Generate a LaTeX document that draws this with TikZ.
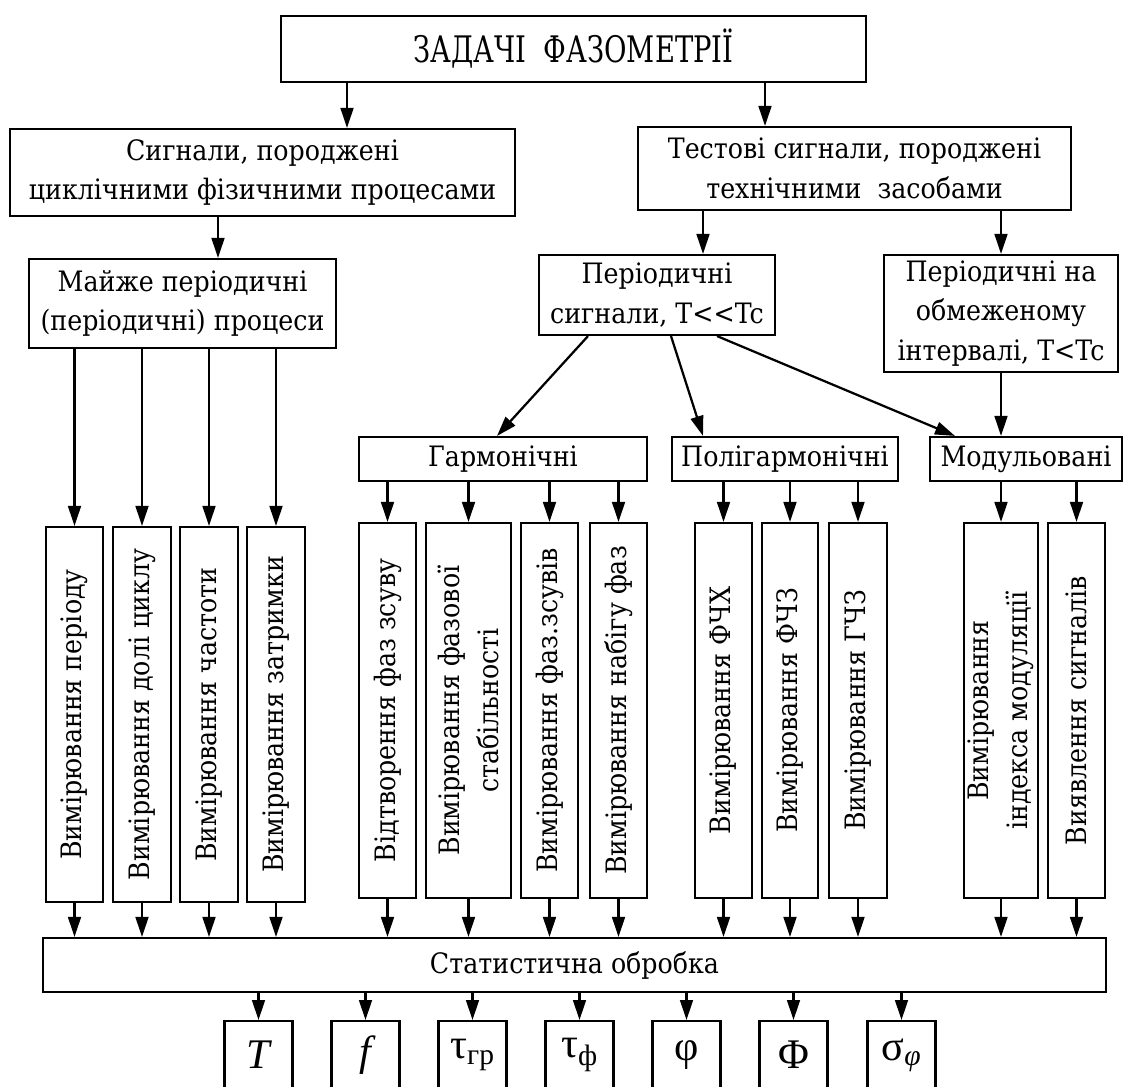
\documentclass[tikz,border=0pt]{standalone}
\usepackage{fontspec}
\setmainfont{DejaVu Serif}[FakeStretch=0.9]
\newfontfamily\titlefont{DejaVu Serif}[FakeStretch=0.75]
\newfontfamily\symfont{Liberation Serif}
\usetikzlibrary{arrows.meta}

\begin{document}
\begin{tikzpicture}[
    x=0.25mm, y=-0.25mm,
    >={Triangle[length=5mm, width=3.2mm]},
    box/.style={draw, line width=1.5pt, align=center, inner sep=0pt,
                font=\fontsize{20}{28}\selectfont},
    vbox/.style={box, rotate=90, minimum width=93.75mm},
    sym/.style={draw, line width=1.5pt, anchor=north, inner sep=0pt,
                minimum width=17mm, minimum height=17mm,
                font=\symfont\fontsize{30}{30}\selectfont},
    arr/.style={->, line width=1.6pt}
  ]
  \useasboundingbox (0,0) rectangle (1128,1086);
  \clip (0,0) rectangle (1128,1086);

  % Upper levels
  \node[box, minimum width=146.25mm, minimum height=16.5mm,
        font=\titlefont\fontsize{26}{30}\selectfont]
    (task) at (573.5,49) {ЗАДАЧІ~~ФАЗОМЕТРІЇ};
  \node[box, minimum width=126.25mm, minimum height=21.75mm]
    (sig) at (262.5,172.5) {Сигнали, породжені\\циклічними фізичними процесами};
  \node[box, minimum width=108.25mm, minimum height=20.75mm]
    (test) at (854.5,168.5) {Тестові сигнали, породжені\\технічними~~засобами};
  \node[box, minimum width=76.75mm, minimum height=22.25mm]
    (almost) at (182.5,303.5) {Майже періодичні\\(періодичні) процеси};
  \node[box, minimum width=59mm, minimum height=20mm]
    (per) at (657,295) {Періодичні\\сигнали, T<{}<Tc};
  \node[box, minimum width=58.5mm, minimum height=29.25mm]
    (perlim) at (1001,313.5) {Періодичні на\\обмеженому\\інтервалі, T<Tc};

  \draw[arr] (347,0 |- task.south) -- (347,0 |- sig.north);
  \draw[arr] (765,0 |- task.south) -- (765,0 |- test.north);
  \draw[arr] (218,0 |- sig.south) -- (218,0 |- almost.north);
  \draw[arr] (703,0 |- test.south) -- (703,0 |- per.north);
  \draw[arr] (1001,0 |- test.south) -- (1001,0 |- perlim.north);

  % Signal kinds
  \node[box, minimum width=72mm, minimum height=11mm] (harm) at (503,459) {Гармонічні};
  \node[box, minimum width=56.5mm, minimum height=11mm] (poly) at (785,459) {Полігармонічні};
  \node[box, minimum width=48mm, minimum height=11mm] (mod) at (1026,459) {Модульовані};

  \draw[arr] (588,0 |- per.south) -- (497,0 |- harm.north);
  \draw[arr] (671,0 |- per.south) -- (703,0 |- poly.north);
  \draw[arr] (717,0 |- per.south) -- (955,0 |- mod.north);
  \draw[arr] (1001,0 |- perlim.south) -- (1001,0 |- mod.north);

  % Measurements (rotated boxes: east is the top, west the bottom)
  \foreach \n/\x/\w/\t in {
    l1/74.5/57/{Вимірювання періоду},
    l2/142/58/{Вимірювання долі циклу},
    l3/209/58/{Вимірювання частоти},
    l4/276/58/{Вимірювання затримки}} {
    \node[vbox, minimum height=\w*0.25mm] (\n) at (\x,714.5) {\t};
    \draw[arr] (\n.east |- almost.south) -- (\n.east);
  }
  \foreach \n/\x/\w/\t/\p in {
    h1/387.5/57/{Відтворення фаз зсуву}/harm,
    h2/468.5/85/{Вимірювання фазової\\стабільності}/harm,
    h3/549.5/57/{Вимірювання фаз.зсувів}/harm,
    h4/618.5/57/{Вимірювання набігу фаз}/harm,
    p1/723.5/57/{Вимірювання ФЧХ}/poly,
    p2/790/56/{Вимірювання ФЧЗ}/poly,
    p3/858/58/{Вимірювання ГЧЗ}/poly,
    m1/1001/74/{Вимірювання\\індекса модуляції}/mod,
    m2/1076.5/57/{Виявлення сигналів}/mod} {
    \node[vbox, minimum height=\w*0.25mm] (\n) at (\x,710.5) {\t};
    \draw[arr] (\n.east |- \p.south) -- (\n.east);
  }

  % Processing and results
  \node[box, minimum width=265.75mm, minimum height=13.5mm] (stat) at (574.5,965)
    {Статистична обробка};
  \foreach \n in {l1,l2,l3,l4,h1,h2,h3,h4,p1,p2,p3,m1,m2}
    \draw[arr] (\n.west) -- (\n.west |- stat.north);

  \foreach \n/\x/\s in {
    s1/258.5/{\itshape T},
    s2/365.5/{\itshape f},
    s3/472.5/{τ\textsubscript{гр}},
    s4/579.5/{τ\textsubscript{ф}},
    s5/686.5/{φ},
    s6/793.5/{Φ},
    s7/901.5/{σ\textsubscript{\itshape φ}}} {
    \node[sym] (\n) at (\x,1020) {\s};
    \draw[arr] (\n.north |- stat.south) -- (\n.north);
  }
\end{tikzpicture}
\end{document}
